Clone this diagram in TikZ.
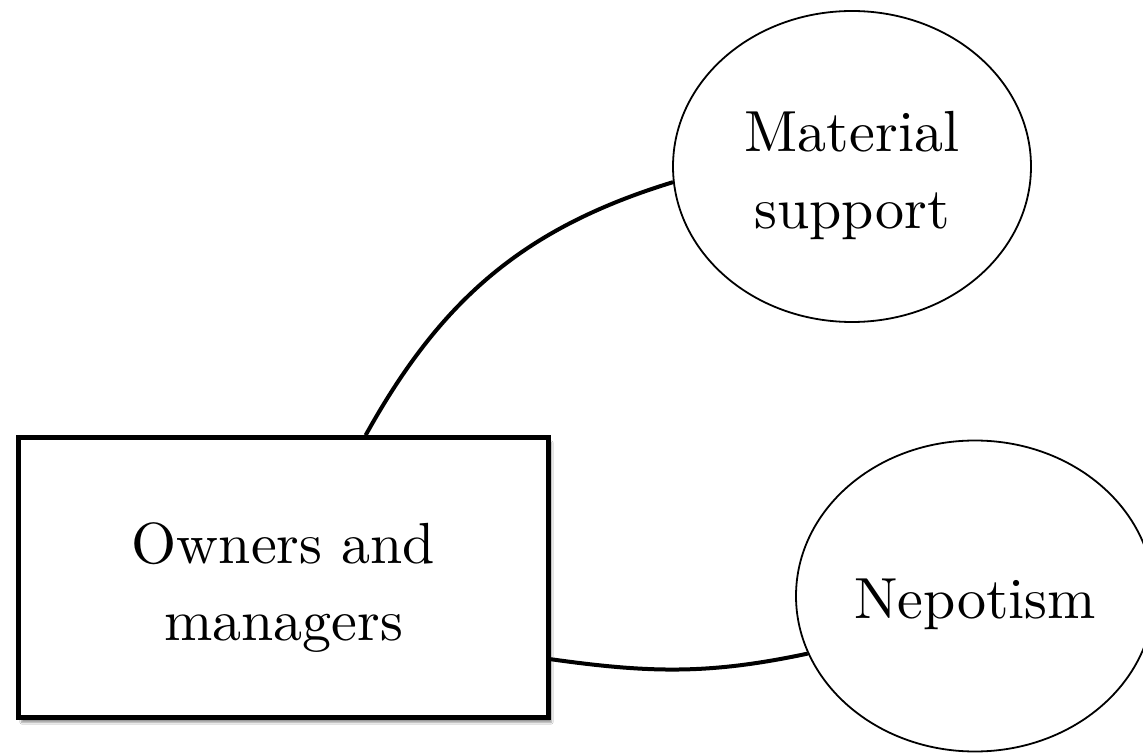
\documentclass[tikz,border=0pt]{standalone}
\usepackage{fontspec}
\usetikzlibrary{shapes.geometric,shadows.blur}
% design-size 10 cut of Latin Modern, scaled up for the labels
\newfontfamily\labelfont{lmroman10-regular}[Extension=.otf]
\begin{document}
\begin{tikzpicture}[x=1pt,y=1pt,
  lbl/.style={font=\labelfont\fontsize{58}{77}\selectfont, align=center, text=black},
  twoline/.style={text height=130pt, text depth=5pt},
  oneline/.style={text height=44pt, text depth=0pt},
  ownerbox/.style={lbl, draw, line width=4.5pt, rectangle,
    minimum width=530pt, minimum height=280pt, inner sep=0pt, fill=white,
    blur shadow={shadow xshift=3pt, shadow yshift=-5pt, shadow blur steps=6, shadow opacity=40}},
  topic/.style={lbl, draw, line width=1.8pt, ellipse,
    minimum width=358pt, minimum height=311pt, inner sep=0pt, fill=white},
  link/.style={line width=4pt}
]
% page frame
\clip (0,0) rectangle (1143,753);
\fill[white] (0,0) rectangle (1143,753);

% nodes
\node[ownerbox, twoline] (own) at (283.5,175.5) {Owners and\\managers};
\node[topic, twoline] (mat) at (852,586.5) {Material\\support};
\node[topic, oneline] (nep) at (975,157) {Nepotism};

% connectors
\draw[link] (own.60) to[out=61,in=197] (mat.185);
\draw[link] (own.-17.5) to[out=-8,in=192] (nep.199.6);
\end{tikzpicture}
\end{document}
